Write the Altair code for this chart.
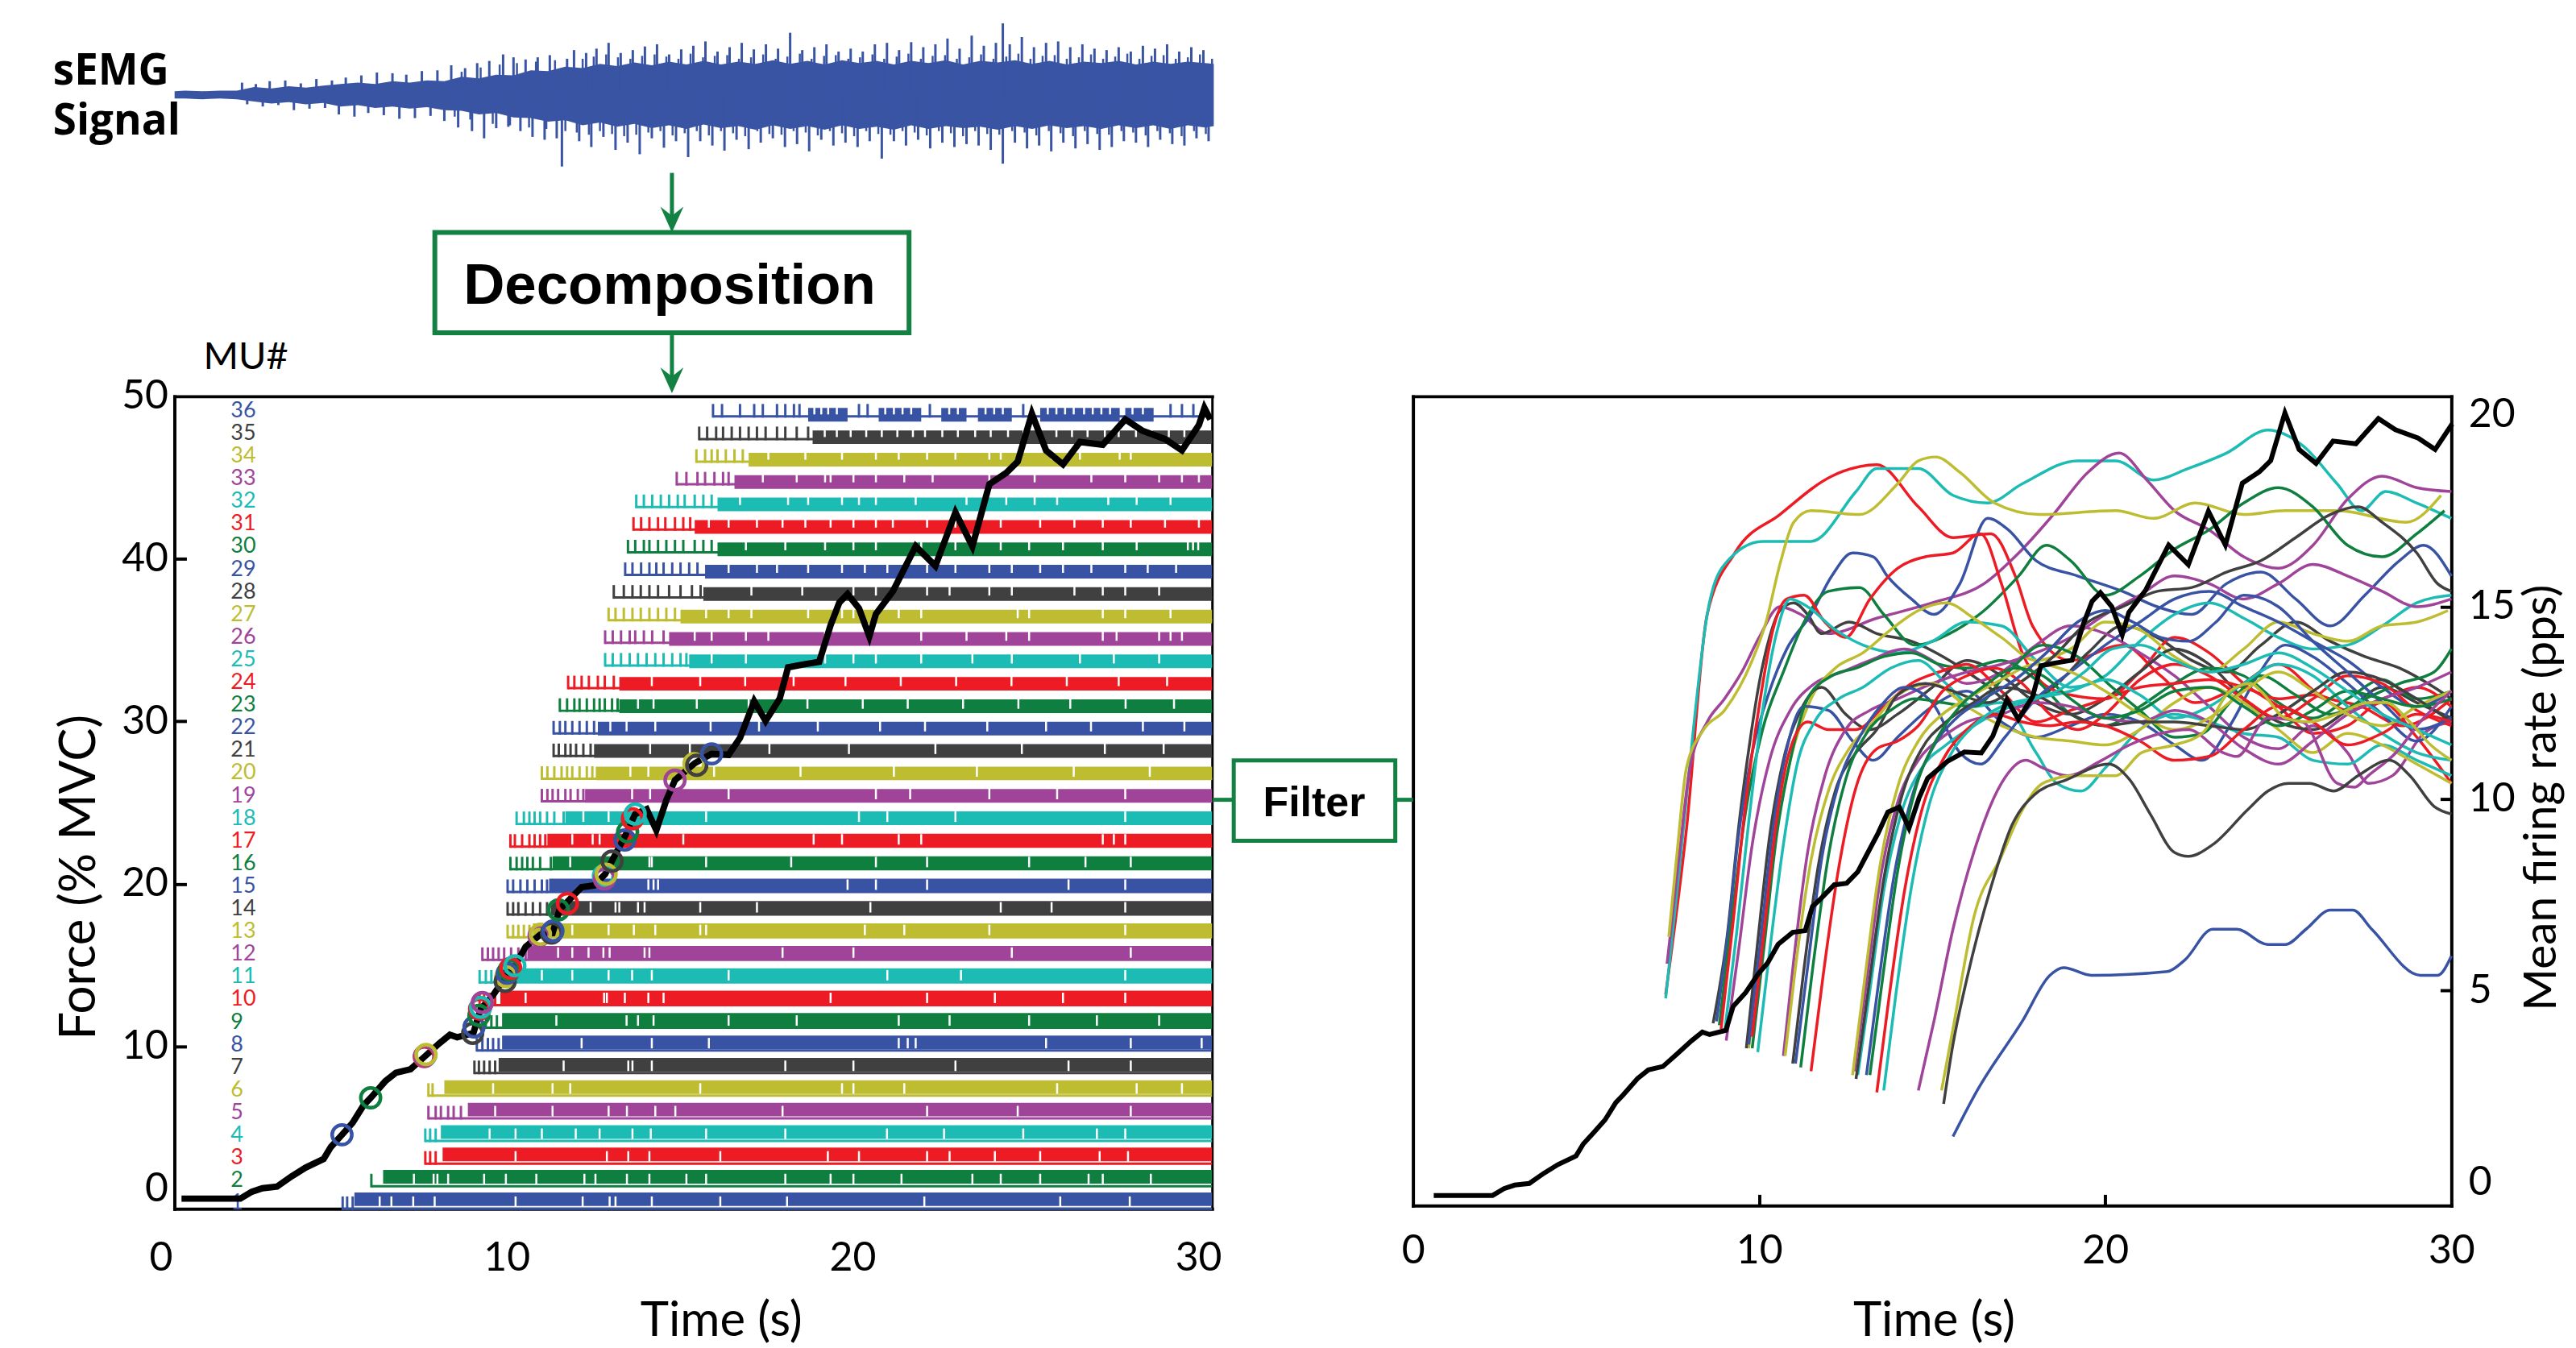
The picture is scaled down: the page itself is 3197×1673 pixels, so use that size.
import altair as alt
import pandas as pd

# ------------------------------------------------------------------ data
MU_IDS = list(range(1, 37))
PALETTE = ["#3953a4", "#0f7f40", "#ed1c24", "#1cbbb4", "#a0449a", "#bebd32", "#404040"]
MU_COLORS = [PALETTE[(m - 1) % 7] for m in MU_IDS]

TRAIN_END = 30.4

# force trace (% MVC)
FORCE_T = [0.6, 2.3, 2.63, 2.94, 3.36, 3.78, 4.19, 4.71, 4.92, 5.24,
           5.55, 5.86, 6.07, 6.49, 6.8, 7.22, 7.63, 8.05, 8.36, 8.57,
           9.04, 9.25, 9.61, 9.98, 10.24, 10.55, 10.97, 11.33, 11.54, 11.76,
           12.17, 12.53, 12.85, 13.07, 13.44, 13.72, 14.05, 14.33, 14.62, 14.87,
           15.44, 15.93, 16.42, 16.75, 17.16, 17.49, 17.9, 18.14, 18.55, 19.04,
           19.37, 19.62, 19.86, 20.19, 20.49, 20.68, 21.17, 21.83, 22.4, 22.98,
           23.47, 23.96, 24.45, 24.78, 25.19, 25.6, 26.09, 26.58, 27.24, 27.89,
           28.38, 29.04, 29.53, 30.02, 30.18, 30.35]
FORCE_F = [0.63, 0.63, 1.05, 1.27, 1.37, 2.0, 2.54, 3.07, 3.81, 4.56,
           5.3, 6.36, 6.83, 7.85, 8.38, 8.59, 9.37, 10.18, 10.71, 10.56,
           10.82, 12.3, 13.15, 14.32, 14.96, 16.13, 16.87, 16.97, 18.46, 18.9,
           19.8, 19.9, 20.6, 21.5, 23.0, 24.3, 24.6, 23.3, 25.16, 26.38,
           27.42, 28.0, 27.94, 28.98, 31.24, 30.02, 31.41, 33.32, 33.49, 33.66,
           35.92, 37.3, 37.83, 36.96, 35.23, 36.61, 38.0, 40.77, 39.56, 42.86,
           40.77, 44.59, 45.29, 45.98, 48.93, 46.67, 45.81, 47.19, 47.02, 48.58,
           47.89, 47.37, 46.67, 48.24, 49.28, 48.58]

# recruitment circles (time, force)
CIRCLE_T = [5.24, 6.07, 7.62, 7.66, 7.63, 7.67, 9.02, 9.06, 9.2, 9.22, 9.25, 9.3,
            9.98, 9.96, 10.02, 10.08, 10.12, 10.24, 10.94, 10.98, 11.3, 11.34, 11.5, 11.76,
            12.8, 12.83, 12.88, 13.05, 13.42, 13.5, 13.64, 13.72, 14.87, 15.42, 15.5, 15.93]
CIRCLE_F = [4.56, 6.83, 9.37, 9.45, 9.4, 9.5, 10.8, 11.2, 11.9, 12.3, 12.4, 12.7,
            14.3, 14.0, 14.5, 14.7, 14.8, 14.96, 16.8, 16.9, 16.97, 17.1, 18.4, 18.8,
            20.5, 20.3, 20.6, 21.4, 22.7, 23.2, 24.0, 24.3, 26.38, 27.4, 27.3, 28.0]

# spike trains: isolated discharges at onset, then dense firing with some longer intervals
MU_TICKS = {
    1: [5.26, 5.39, 5.55], 2: [6.09], 3: [7.65, 7.79, 7.95], 4: [7.65, 7.79, 7.95],
    5: [7.74, 7.95, 8.1, 8.31, 8.47, 8.68], 6: [7.74, 7.86],
    7: [9.07, 9.2, 9.35, 9.51, 9.67], 8: [9.14, 9.3, 9.46, 9.61, 9.77],
    9: [9.4, 9.56, 9.72], 10: [9.22, 9.35, 9.51, 9.67], 11: [9.22, 9.4, 9.56],
    12: [9.3, 9.46, 9.61, 9.77, 9.93, 10.13, 10.34, 10.55],
    13: [10.03, 10.19, 10.34, 10.5, 10.66],
    14: [10.03, 10.19, 10.34, 10.55, 10.76, 10.97, 11.17],
    15: [10.03, 10.19, 10.4, 10.6, 10.81, 11.02, 11.17],
    16: [10.11, 10.29, 10.45, 10.6, 10.76, 10.97, 11.28],
    17: [10.11, 10.24, 10.45, 10.66, 10.81, 10.97, 11.12],
    18: [10.29, 10.5, 10.66, 10.81, 10.97, 11.17, 11.38, 11.65],
    19: [11.02, 11.18, 11.33, 11.49, 11.7, 11.85, 12.06, 12.22],
    20: [11.02, 11.18, 11.38, 11.59, 11.75, 11.9, 12.11, 12.32, 12.48],
    21: [11.36, 11.51, 11.7, 11.85, 12.01, 12.22, 12.43],
    22: [11.36, 11.54, 11.7, 11.9, 12.11, 12.32, 12.53],
    23: [11.54, 11.75, 11.96, 12.11, 12.32, 12.53, 12.69, 12.84, 13.05, 13.21],
    24: [11.78, 11.96, 12.17, 12.38, 12.64, 12.84, 13.1],
    25: [12.85, 13.07, 13.31, 13.56, 13.8, 14.05, 14.3, 14.54, 14.79, 15.03, 15.2],
    26: [12.85, 13.07, 13.31, 13.56, 13.72, 13.97, 14.21, 14.54],
    27: [12.95, 13.15, 13.39, 13.64, 13.88, 14.13, 14.38, 14.62, 14.87],
    28: [13.1, 13.39, 13.64, 13.88, 14.13, 14.38, 14.7, 15.03, 15.36, 15.61],
    29: [13.43, 13.64, 13.89, 14.13, 14.33, 14.54, 14.79, 15.03, 15.28, 15.52],
    30: [13.51, 13.72, 13.97, 14.13, 14.38, 14.62, 14.87, 15.11, 15.44, 15.69, 15.93],
    31: [13.67, 13.89, 14.13, 14.38, 14.59, 14.87, 15.11, 15.31],
    32: [13.75, 13.97, 14.21, 14.46, 14.7, 14.95, 15.15, 15.44, 15.69, 15.93],
    33: [14.92, 15.2, 15.52, 15.74, 16.01, 16.26, 16.42],
    34: [15.49, 15.74, 15.93, 16.1, 16.34, 16.59, 16.83],
    35: [15.57, 15.8, 16.06, 16.26, 16.51, 16.75, 17.0, 17.24, 17.49, 17.82, 18.06, 18.39, 18.72],
    36: [15.97, 16.23, 16.75, 17.16, 17.41, 17.82, 18.06, 18.31, 18.47, 20.19, 20.44,
         22.24, 24.94, 29.2, 29.53, 29.86, 30.18],
}
MU_DENSE_START = [5.6, 6.43, 8.15, 8.1, 8.88, 8.2, 9.77, 9.87, 9.87, 9.82,
                  9.72, 10.6, 10.76, 11.28, 11.23, 11.33, 11.18, 11.7, 12.27, 12.58,
                  12.53, 12.64, 13.26, 13.26, 15.28, 14.7, 15.03, 15.69, 15.74, 16.1,
                  15.44, 16.1, 16.59, 17.0, 18.85]
MU36_SEGMENTS = [[18.72, 19.86], [20.76, 21.99], [22.57, 23.3], [23.63, 24.61],
                 [25.43, 27.73], [27.89, 28.71]]
MU_GAPS = {
    1: [6.33, 6.67, 7.3, 7.92, 10.26, 12.2, 12.98, 13.15, 14.2, 16.18, 18.11, 22.08, 26.01, 28.02],
    2: [7.32, 7.89, 8.0, 8.31, 9.35, 9.98, 10.86, 12.25, 12.57, 13.48, 14.13, 15.2, 15.77,
        18.06, 19.37, 20.03, 21.42, 23.47, 24.29, 25.43, 26.83, 27.24, 28.63],
    3: [10.26, 12.9, 13.52, 14.13, 16.18, 19.29, 20.19, 22.16, 22.81, 24.12, 25.43, 27.15, 27.97],
    4: [9.51, 10.26, 11.02, 12.0, 12.69, 13.64, 14.17, 15.77, 18.06, 21.0, 22.65, 24.94, 27.07, 27.89],
    5: [9.67, 11.33, 12.95, 13.48, 14.3, 14.88, 17.98, 22.16, 24.78, 28.05],
    6: [9.61, 11.33, 11.84, 15.6, 19.7, 20.03, 21.5, 25.92, 28.22, 29.53],
    7: [11.65, 13.52, 13.64, 14.2, 18.06, 20.03, 22.98, 26.25, 28.05],
    8: [12.17, 14.2, 15.85, 21.34, 21.6, 21.83, 25.6, 28.05, 30.1],
    9: [11.44, 13.47, 13.8, 14.25, 16.42, 18.39, 21.34, 22.81, 25.11, 27.07, 28.87],
    10: [10.55, 12.82, 12.9, 13.42, 14.1, 14.54, 19.37, 22.16, 24.12, 26.09, 27.89],
    11: [11.02, 11.9, 12.95, 13.63, 14.2, 16.42, 21.01, 23.14, 27.89],
    12: [11.49, 11.9, 12.37, 12.8, 12.98, 13.99, 14.13, 17.98, 20.03, 24.61, 28.05],
    13: [11.9, 12.95, 13.68, 14.3, 15.6, 15.77, 20.36, 21.5, 23.96, 27.89],
    14: [12.43, 13.15, 13.26, 13.8, 13.99, 15.6, 17.24, 20.52, 24.29, 25.76, 27.89],
    15: [14.1, 14.25, 14.38, 19.86, 20.68, 22.16, 26.25, 27.89],
    16: [11.84, 14.13, 14.2, 15.77, 18.23, 20.68, 22.16, 25.11, 26.74, 28.05],
    17: [11.9, 12.49, 12.69, 13.68, 15.11, 18.88, 19.7, 21.34, 21.99, 27.24, 27.56, 27.89],
    18: [12.22, 12.95, 15.77, 20.19, 21.01, 22.98, 27.89],
    19: [13.63, 14.15, 16.42, 20.68, 21.67, 23.96, 25.92, 27.89],
    20: [13.58, 14.1, 16.0, 18.5, 21.2, 23.6, 26.4, 28.6],
    21: [14.15, 15.3, 17.6, 19.9, 22.4, 24.9, 27.3, 29.0],
    22: [13.0, 13.47, 14.3, 15.9, 17.3, 19.0, 20.8, 22.1, 23.9, 25.6, 26.9, 28.4, 29.6],
    23: [13.8, 14.25, 15.5, 17.0, 18.7, 20.3, 21.6, 23.2, 24.8, 26.3, 27.9, 29.3],
    24: [14.2, 15.6, 16.9, 18.3, 19.8, 21.4, 23.0, 24.6, 26.2, 27.7, 29.1],
    25: [15.93, 16.92, 19.21, 20.03, 20.68, 21.99, 23.47, 24.61, 26.58, 27.56, 28.87],
    26: [15.44, 15.93, 16.92, 17.57, 19.21, 20.52, 21.99, 23.3, 24.45, 25.11, 27.24, 27.64, 28.87, 29.2, 29.53],
    27: [15.77, 16.42, 17.08, 18.72, 19.7, 20.03, 21.34, 21.99, 24.78, 25.11, 27.24, 27.89, 29.2],
    28: [17.08, 18.55, 20.03, 20.68, 22.16, 22.81, 23.96, 24.61, 26.42, 27.24, 27.89, 28.87],
    29: [16.42, 17.24, 17.82, 18.72, 19.7, 20.36, 21.01, 22.16, 22.98, 23.96, 24.61, 25.43,
         26.09, 26.91, 27.89, 28.54, 29.36],
    30: [16.92, 18.06, 19.21, 20.03, 20.68, 21.99, 22.98, 24.29, 25.11, 26.09, 27.24, 28.22, 29.7, 29.85, 30.0],
    31: [15.85, 16.42, 17.24, 17.98, 18.64, 19.37, 20.03, 20.68, 21.17, 22.16, 22.98, 24.29,
         25.43, 26.42, 27.24, 28.05, 29.04, 30.02],
    32: [16.75, 18.14, 18.72, 19.7, 20.19, 20.68, 21.83, 23.3, 24.45, 25.27, 25.92, 27.4, 28.22, 29.2],
    33: [17.41, 18.39, 19.21, 19.37, 20.03, 20.68, 21.5, 22.32, 23.96, 25.27, 26.91, 27.89, 28.87, 29.53, 30.02],
    34: [17.57, 18.64, 19.7, 20.68, 21.34, 22.16, 22.98, 23.96, 24.29, 25.76, 26.58, 27.73, 28.05],
    35: [19.2, 19.55, 19.95, 20.4, 20.85, 21.3, 21.75, 22.1, 22.6, 23.05, 23.55, 24.0, 24.5,
         24.95, 25.4, 25.9, 26.35, 26.8, 27.3, 27.7, 28.2, 28.65, 29.15, 29.6],
    36: [18.9, 19.1, 19.3, 19.55, 20.95, 21.2, 21.45, 21.7, 22.8, 23.05, 23.85, 24.1, 24.35,
         25.65, 25.9, 26.15, 26.4, 26.7, 26.95, 27.2, 27.45, 28.1, 28.4],
}

# filtered mean firing rates (pps)
FR_CURVES = {
    3: [(7.3, 4.9), (7.9, 9.2), (8.5, 14.8), (9.3, 16.4), (10.6, 17.4), (12.1, 18.4), (13.4, 18.7),
        (14.6, 17.6), (15.6, 16.8), (16.7, 16.9), (17.4, 15.8), (17.9, 14.5), (19.0, 13.6), (20.5, 14.0),
        (21.6, 13.2), (22.6, 12.5), (23.8, 12.9), (25.0, 13.5), (26.2, 12.7), (27.4, 12.4), (28.6, 11.9), (30.0, 12.6)],
    4: [(7.3, 4.8), (7.7, 8.2), (8.1, 11.8), (8.5, 14.8), (9.0, 16.1), (10.1, 16.7), (11.5, 16.7), (12.8, 18.0),
        (13.4, 18.6), (14.6, 18.6), (15.6, 17.9), (16.6, 17.7), (17.6, 18.2), (19.2, 18.8), (20.3, 18.8),
        (21.4, 18.3), (22.4, 18.6), (23.5, 19.0), (24.7, 19.6), (25.7, 19.2), (26.7, 18.2), (27.4, 17.5),
        (28.1, 18.0), (29.0, 17.7), (30.0, 17.3)],
    5: [(7.34, 5.7), (7.7, 8.6), (8.0, 10.8), (8.5, 12.0), (9.0, 12.6), (9.5, 13.3), (10.0, 14.2), (10.6, 15.0),
        (11.2, 14.8), (12.0, 14.3), (13.4, 14.7), (15.0, 15.1), (16.5, 15.6), (17.5, 16.4), (18.5, 17.4),
        (19.5, 18.5), (20.4, 19.0), (21.2, 18.3), (22.0, 17.5), (23.0, 17.0), (24.0, 16.3), (25.0, 16.0),
        (26.0, 16.6), (27.0, 17.8), (28.0, 18.4), (29.0, 18.1), (30.0, 18.0)],
    6: [(7.39, 6.4), (7.63, 8.6), (7.9, 10.8), (8.4, 11.8), (9.0, 12.3), (9.8, 13.6), (10.2, 14.6), (10.6, 16.1),
        (11.0, 17.2), (11.5, 17.5), (12.9, 17.4), (14.0, 18.2), (14.6, 18.8), (15.1, 18.9), (15.8, 18.5),
        (16.8, 17.7), (18.1, 17.4), (20.3, 17.5), (21.4, 17.3), (22.6, 17.7), (24.0, 17.4), (25.2, 17.5),
        (26.7, 17.5), (28.7, 17.2), (29.7, 17.9)],
    7: [(8.67, 4.15), (9.06, 6.3), (9.44, 9.5), (9.72, 11.4), (10.0, 13.0), (10.3, 14.2), (10.6, 14.9),
        (11.0, 15.1), (11.4, 14.8), (11.8, 14.3), (12.6, 14.6), (13.4, 14.3), (14.4, 14.1), (15.5, 13.6),
        (16.5, 13.0), (17.5, 12.4), (18.5, 12.9), (19.5, 13.8), (20.5, 14.5), (21.5, 14.2), (22.5, 13.6),
        (23.5, 13.3), (24.5, 14.0), (25.5, 14.6), (26.5, 14.1), (27.5, 13.7), (28.5, 13.4), (29.5, 12.9), (30.0, 12.6)],
    8: [(8.77, 4.2), (9.1, 6.5), (9.4, 9.0), (9.8, 11.2), (10.3, 12.8), (10.8, 13.9), (11.5, 14.8), (12.1, 15.8),
        (12.7, 16.4), (13.3, 16.3), (13.7, 15.8), (14.4, 15.2), (15.05, 14.8), (15.8, 15.6), (16.6, 17.3),
        (17.2, 17.0), (18.0, 16.2), (19.2, 15.8), (20.5, 15.4), (21.5, 15.0), (22.5, 14.8), (23.5, 15.6),
        (24.5, 15.9), (25.5, 15.2), (26.5, 14.5), (27.5, 15.3), (28.5, 16.2), (29.2, 16.6), (30.0, 15.8)],
    9: [(8.85, 4.1), (9.2, 6.8), (9.6, 9.6), (10.1, 11.8), (10.7, 13.3), (11.3, 14.6), (12.0, 15.4), (12.9, 15.5),
        (13.6, 14.8), (14.5, 14.0), (15.5, 14.3), (16.5, 14.9), (17.5, 15.8), (18.3, 16.6), (19.0, 16.2),
        (20.0, 15.3), (21.0, 15.8), (22.0, 16.5), (23.0, 17.0), (24.0, 17.7), (25.0, 18.1), (26.0, 17.6),
        (27.0, 16.6), (28.0, 16.3), (29.0, 16.9), (29.8, 17.5)],
    10: [(8.9, 4.0), (9.25, 6.8), (9.6, 9.8), (10.0, 12.4), (10.4, 14.4), (10.8, 15.2), (11.3, 15.3), (11.9, 14.6),
         (12.5, 14.2), (13.2, 15.2), (14.0, 16.0), (14.8, 16.3), (15.6, 16.4), (16.4, 16.9), (17.0, 15.6),
         (17.6, 13.8), (18.2, 13.0), (19.0, 12.7), (20.0, 12.6), (21.0, 13.3), (22.0, 14.2), (23.0, 13.8),
         (24.0, 13.0), (25.0, 12.4), (26.0, 11.7), (27.0, 11.9), (28.0, 12.5), (29.0, 11.6), (30.0, 10.4)],
    11: [(9.0, 3.9), (9.35, 6.5), (9.7, 9.4), (10.1, 12.3), (10.5, 14.3), (10.9, 15.2), (11.4, 15.0), (12.2, 14.4),
         (13.0, 14.0), (14.0, 13.8), (15.0, 14.1), (16.0, 14.6), (17.0, 14.5), (18.0, 13.6), (19.0, 12.9),
         (20.0, 13.2), (21.0, 14.1), (22.0, 14.8), (23.0, 15.1), (24.0, 14.7), (25.0, 14.2), (26.0, 13.9),
         (27.0, 14.0), (28.0, 14.5), (29.0, 15.1), (30.0, 15.3)],
    12: [(9.05, 3.7), (9.4, 6.0), (9.8, 8.8), (10.3, 11.0), (10.9, 12.3), (11.6, 13.0), (12.4, 13.3), (13.2, 13.6),
         (14.2, 13.9), (15.0, 13.6), (16.0, 13.0), (17.0, 13.3), (18.0, 14.0), (19.0, 14.5), (20.0, 14.3),
         (21.0, 13.8), (22.0, 13.2), (23.0, 12.4), (24.0, 11.6), (25.0, 11.3), (26.0, 11.9), (27.0, 11.2),
         (27.6, 10.4), (28.3, 10.6), (29.2, 11.7), (30.0, 12.0)],
    13: [(9.7, 3.5), (10.0, 5.8), (10.4, 8.6), (10.9, 11.0), (11.5, 12.6), (12.2, 13.4), (13.0, 13.8), (13.8, 14.4),
         (14.6, 14.9), (15.4, 15.1), (16.2, 14.7), (17.0, 14.2), (18.0, 13.6), (19.0, 13.9), (20.0, 14.6),
         (21.0, 14.4), (22.0, 13.7), (23.0, 13.3), (24.0, 13.9), (25.0, 14.6), (26.0, 14.3), (27.0, 14.1),
         (28.0, 14.5), (29.0, 14.6), (29.9, 14.9)],
    14: [(9.63, 3.5), (9.95, 6.2), (10.3, 9.0), (10.7, 11.0), (11.2, 12.3), (11.8, 12.9), (12.5, 12.2), (13.2, 11.8),
         (14.0, 12.2), (15.0, 12.9), (16.0, 13.6), (17.0, 13.2), (18.0, 12.5), (19.0, 12.2), (20.0, 12.6),
         (21.0, 13.3), (22.0, 13.9), (23.0, 13.5), (24.0, 12.6), (25.0, 12.0), (26.0, 11.8), (27.0, 12.3),
         (28.0, 12.9), (29.0, 12.5), (30.0, 12.1)],
    15: [(9.7, 3.6), (10.05, 6.4), (10.4, 9.2), (10.8, 11.3), (11.3, 12.4), (12.0, 12.3), (12.7, 11.5), (13.3, 11.0),
         (14.0, 11.6), (15.0, 12.4), (16.0, 12.8), (17.0, 12.0), (18.0, 11.6), (19.0, 11.9), (20.0, 12.2),
         (21.0, 12.0), (22.0, 11.4), (22.8, 11.0), (23.6, 11.9), (24.4, 13.2), (25.2, 14.0), (26.0, 13.7),
         (27.0, 13.0), (28.0, 12.2), (29.0, 11.5), (30.0, 12.4)],
    16: [(9.8, 3.5), (10.15, 6.2), (10.5, 9.0), (10.9, 11.0), (11.4, 12.6), (12.1, 13.2), (12.8, 13.4), (13.6, 13.7),
         (14.4, 13.8), (15.2, 13.5), (16.0, 13.4), (17.0, 13.6), (18.0, 13.1), (19.0, 12.2), (20.0, 11.9),
         (21.0, 12.4), (22.0, 13.0), (23.0, 13.4), (24.0, 13.2), (25.0, 12.5), (26.0, 12.1), (27.0, 12.6),
         (28.0, 13.1), (29.0, 12.6), (30.0, 12.8)],
    17: [(9.8, 3.8), (10.15, 6.6), (10.5, 9.4), (10.9, 11.3), (11.4, 12.0), (12.0, 11.8), (12.8, 11.8), (13.6, 12.4),
         (14.4, 13.0), (15.2, 13.3), (16.0, 13.5), (17.0, 12.8), (18.0, 12.0), (19.0, 12.3), (20.0, 12.6),
         (21.0, 12.9), (22.0, 13.0), (23.0, 13.1), (24.0, 12.9), (25.0, 12.6), (26.0, 12.7), (27.0, 12.3),
         (28.0, 12.6), (29.0, 12.9), (30.0, 12.4)],
    18: [(9.96, 3.4), (10.3, 6.0), (10.7, 8.8), (11.1, 10.9), (11.6, 12.0), (12.3, 12.6), (13.0, 12.9), (13.8, 13.4),
         (14.6, 13.6), (15.4, 13.0), (16.2, 12.4), (17.0, 12.5), (18.0, 11.2), (18.6, 10.4), (19.3, 10.2),
         (20.0, 10.8), (21.0, 11.8), (22.0, 12.2), (23.0, 12.0), (24.0, 11.7), (25.0, 11.6), (26.0, 11.0),
         (27.0, 10.9), (28.0, 11.4), (29.0, 11.0), (30.0, 10.6)],
    19: [(10.7, 3.3), (11.0, 5.8), (11.4, 8.6), (11.9, 10.6), (12.5, 11.8), (13.2, 12.3), (14.0, 12.6), (15.0, 13.0),
         (16.0, 13.3), (17.0, 13.5), (18.0, 13.8), (19.0, 14.2), (20.0, 14.8), (21.0, 15.3), (22.0, 15.8),
         (23.0, 15.6), (24.0, 15.2), (25.0, 15.6), (26.0, 16.1), (27.0, 15.8), (28.0, 15.4), (29.0, 15.0), (30.0, 15.2)],
    20: [(10.75, 3.3), (11.05, 5.6), (11.5, 8.4), (12.0, 10.2), (12.6, 11.3), (13.3, 12.0), (14.0, 12.7), (15.0, 13.0),
         (16.0, 12.4), (17.0, 11.9), (18.0, 11.6), (19.0, 11.5), (20.0, 11.4), (21.0, 11.8), (22.0, 12.5),
         (23.0, 12.9), (24.0, 12.5), (25.0, 11.8), (26.0, 11.2), (27.0, 11.7), (28.0, 11.4), (29.0, 10.9), (30.0, 10.4)],
    21: [(10.97, 3.1), (11.3, 5.6), (11.7, 8.2), (12.2, 10.2), (12.8, 11.2), (13.4, 11.8), (14.0, 12.7), (14.8, 13.0),
         (15.6, 12.8), (16.6, 12.5), (17.5, 13.0), (18.5, 13.7), (19.5, 14.6), (20.5, 15.0), (21.5, 15.4),
         (22.5, 15.5), (23.5, 15.9), (24.5, 16.2), (25.5, 16.8), (26.5, 17.4), (27.3, 17.6), (28.0, 17.2),
         (29.0, 16.4), (29.6, 15.6), (30.0, 15.4)],
    22: [(11.05, 3.1), (11.4, 5.6), (11.8, 8.4), (12.3, 10.4), (12.9, 11.6), (13.5, 12.4), (14.2, 12.9), (15.0, 12.5),
         (15.8, 11.2), (16.4, 10.9), (17.1, 11.6), (18.0, 12.6), (19.0, 13.3), (20.0, 14.0), (21.0, 14.6),
         (22.0, 15.2), (23.0, 15.4), (24.0, 15.0), (25.0, 14.6), (26.0, 14.1), (27.0, 13.6), (28.0, 12.9),
         (29.0, 12.4), (30.0, 12.8)],
    23: [(11.2, 3.0), (11.55, 5.6), (12.0, 8.5), (12.5, 10.5), (13.1, 11.7), (13.8, 12.3), (14.5, 12.6), (15.3, 12.5),
         (16.2, 12.4), (17.2, 13.3), (18.2, 14.0), (19.2, 13.7), (20.2, 12.9), (21.0, 12.3), (22.0, 11.6),
         (22.8, 11.7), (23.6, 12.5), (24.5, 13.2), (25.5, 12.7), (26.5, 12.2), (27.5, 12.6), (28.5, 13.0),
         (29.5, 13.3), (30.0, 13.9)],
    24: [(11.5, 2.9), (11.85, 5.4), (12.3, 8.2), (12.8, 10.3), (13.4, 11.3), (14.0, 11.5), (14.6, 11.9), (15.3, 12.8),
         (16.0, 13.2), (16.8, 13.4), (17.6, 13.0), (18.4, 12.2), (19.2, 11.8), (20.0, 12.2), (21.0, 13.1),
         (22.0, 13.5), (23.0, 13.2), (24.0, 12.6), (25.0, 12.1), (26.0, 12.6), (27.0, 13.2), (28.0, 13.0),
         (29.0, 12.3), (30.0, 11.9)],
    25: [(12.85, 2.8), (13.2, 5.0), (13.6, 7.6), (14.1, 9.6), (14.7, 10.8), (15.4, 11.4), (16.2, 11.9), (17.0, 12.3),
         (18.0, 12.6), (19.0, 12.8), (20.0, 13.1), (21.0, 12.7), (22.0, 12.1), (23.0, 12.4), (24.0, 13.0),
         (25.0, 13.5), (26.0, 13.2), (27.0, 12.4), (28.0, 11.7), (29.0, 11.2), (30.0, 11.0)],
    26: [(12.75, 2.9), (13.1, 5.2), (13.5, 7.9), (14.0, 9.9), (14.6, 11.0), (15.3, 11.6), (16.0, 12.0), (17.0, 12.2),
         (18.0, 12.5), (19.0, 12.4), (20.0, 12.1), (21.0, 12.0), (22.0, 12.3), (23.0, 12.0), (24.0, 11.3),
         (25.0, 10.9), (26.0, 11.5), (27.0, 12.2), (28.0, 12.6), (29.0, 12.9), (30.0, 13.3)],
    27: [(12.7, 2.8), (13.05, 5.3), (13.5, 8.3), (14.0, 10.3), (14.6, 11.5), (15.3, 12.2), (16.0, 12.6), (17.0, 13.1),
         (18.0, 13.5), (19.0, 13.3), (20.0, 12.8), (21.0, 12.2), (22.0, 11.8), (23.0, 12.1), (24.0, 12.8),
         (25.0, 13.3), (26.0, 12.8), (27.0, 12.2), (28.0, 11.9), (29.0, 12.4), (30.0, 12.8)],
    28: [(12.8, 2.7), (13.15, 5.0), (13.6, 7.9), (14.1, 10.0), (14.7, 11.3), (15.4, 12.0), (16.2, 12.5), (17.0, 12.9),
         (18.0, 12.7), (19.0, 12.2), (20.0, 11.9), (21.0, 12.0), (22.0, 12.0), (23.0, 11.9), (24.0, 11.8),
         (25.0, 12.2), (26.0, 12.8), (27.0, 13.3), (28.0, 13.1), (29.0, 12.6), (30.0, 12.0)],
    29: [(13.1, 2.8), (13.45, 5.2), (13.9, 8.0), (14.4, 10.0), (15.0, 11.3), (15.7, 12.1), (16.5, 12.6), (17.4, 13.1),
         (18.3, 13.8), (19.2, 14.6), (20.0, 14.9), (20.8, 14.6), (21.6, 14.2), (22.4, 14.1), (23.2, 14.6),
         (24.0, 15.3), (25.0, 15.0), (26.0, 14.1), (27.0, 13.3), (28.0, 12.5), (29.0, 11.8), (30.0, 12.1)],
    30: [(13.2, 2.8), (13.55, 5.2), (14.0, 8.1), (14.5, 10.2), (15.1, 11.5), (15.8, 12.4), (16.6, 13.0), (17.4, 13.4),
         (18.2, 13.2), (19.0, 12.6), (20.0, 12.1), (21.0, 12.3), (22.0, 12.8), (23.0, 12.9), (24.0, 12.4),
         (25.0, 11.9), (26.0, 12.3), (27.0, 12.8), (28.0, 12.6), (29.0, 12.4), (30.0, 12.6)],
    31: [(13.4, 2.35), (13.75, 4.8), (14.2, 7.6), (14.7, 9.7), (15.3, 11.0), (16.0, 11.8), (16.8, 12.2), (17.6, 12.0),
         (18.4, 11.9), (19.2, 12.0), (20.0, 11.9), (21.0, 11.5), (22.0, 11.0), (23.0, 11.1), (24.0, 11.8),
         (25.0, 12.4), (26.0, 12.0), (27.0, 11.4), (28.0, 11.7), (29.0, 12.2), (30.0, 12.0)],
    32: [(13.6, 2.4), (13.95, 4.9), (14.4, 7.7), (14.9, 9.8), (15.5, 11.1), (16.2, 11.9), (17.0, 12.4), (17.8, 12.6),
         (18.6, 12.8), (19.4, 13.3), (20.2, 13.9), (21.0, 14.0), (22.0, 13.6), (23.0, 13.3), (24.0, 13.5),
         (25.0, 13.8), (26.0, 13.4), (27.0, 12.8), (28.0, 12.2), (29.0, 11.8), (30.0, 11.4)],
    33: [(14.6, 2.4), (15.05, 4.2), (15.6, 6.6), (16.2, 8.6), (17.0, 10.4), (17.7, 11.0), (18.2, 10.8), (18.9, 10.6),
         (19.9, 11.0), (20.7, 11.4), (21.6, 11.7), (22.4, 11.8), (23.4, 11.2), (23.8, 11.1), (24.7, 12.1),
         (25.7, 12.0), (26.7, 10.4), (27.2, 10.3), (27.6, 10.6), (28.4, 11.2), (29.1, 12.0), (30.0, 12.8)],
    34: [(15.27, 2.4), (15.6, 4.0), (16.2, 6.9), (17.0, 8.5), (17.6, 9.7), (18.2, 10.4), (19.1, 10.6), (20.3, 10.6),
         (21.05, 11.2), (22.0, 11.4), (22.8, 11.7), (23.6, 12.8), (24.2, 13.0), (24.5, 12.8), (25.2, 12.1),
         (25.9, 12.0), (26.7, 12.2), (27.6, 12.5), (28.1, 12.5), (28.8, 12.0), (29.4, 11.4), (30.0, 11.0)],
    35: [(15.33, 2.05), (15.6, 3.6), (16.0, 5.3), (16.7, 7.7), (17.3, 9.3), (17.95, 10.1), (18.9, 10.5), (20.1, 10.9),
         (20.7, 10.5), (21.3, 9.6), (22.0, 8.6), (22.4, 8.5), (23.1, 8.8), (24.1, 9.7), (24.7, 10.2), (25.3, 10.4),
         (25.9, 10.4), (26.6, 10.2), (27.3, 10.6), (28.2, 11.0), (28.8, 10.6), (29.5, 9.8), (30.0, 9.6)],
    36: [(15.6, 1.2), (16.3, 2.4), (17.6, 4.2), (18.4, 5.4), (18.8, 5.6), (19.6, 5.4), (21.8, 5.5), (22.3, 5.8),
         (23.1, 6.6), (23.8, 6.6), (24.7, 6.2), (25.2, 6.2), (25.8, 6.6), (26.5, 7.1), (27.15, 7.1), (27.7, 6.6),
         (29.1, 5.4), (29.6, 5.4), (30.0, 5.9)],
}

# surface EMG: dense core envelope and spikes (arbitrary units)
SEMG_T = [0.4, 0.7, 1.2, 1.7, 2.2, 2.7, 3.2, 3.7, 4.2, 4.7,
          5.2, 5.7, 6.2, 6.7, 7.2, 7.7, 8.2, 8.7, 9.2, 9.7,
          10.2, 10.7, 11.2, 11.7, 12.2, 12.7, 13.2, 13.7, 14.2, 14.7,
          15.2, 15.7, 16.2, 16.7, 17.2, 17.7, 18.2, 18.7, 19.2, 19.7,
          20.2, 20.7, 21.2, 21.7, 22.2, 22.7, 23.2, 23.7, 24.2, 24.7,
          25.2, 25.7, 26.2, 26.7, 27.2, 27.7, 28.2, 28.7, 29.2, 29.7,
          30.2, 30.45]
SEMG_U = [0.05, 0.06, 0.05, 0.06, 0.06, 0.11, 0.09, 0.12, 0.10, 0.13,
          0.15, 0.17, 0.15, 0.19, 0.17, 0.20, 0.19, 0.25, 0.23, 0.28,
          0.27, 0.34, 0.33, 0.39, 0.37, 0.43, 0.40, 0.45, 0.41, 0.46,
          0.42, 0.47, 0.42, 0.46, 0.43, 0.48, 0.43, 0.47, 0.42, 0.48,
          0.44, 0.47, 0.42, 0.47, 0.44, 0.48, 0.42, 0.47, 0.45, 0.48,
          0.43, 0.47, 0.42, 0.46, 0.44, 0.47, 0.42, 0.46, 0.43, 0.46,
          0.44, 0.43]
SEMG_L = [-0.05, -0.05, -0.06, -0.05, -0.06, -0.09, -0.12, -0.10, -0.13, -0.11,
          -0.16, -0.14, -0.18, -0.16, -0.19, -0.17, -0.21, -0.22, -0.27, -0.25,
          -0.31, -0.32, -0.37, -0.35, -0.42, -0.38, -0.44, -0.40, -0.46, -0.42,
          -0.47, -0.41, -0.46, -0.43, -0.48, -0.42, -0.47, -0.43, -0.48, -0.42,
          -0.47, -0.44, -0.48, -0.42, -0.47, -0.43, -0.46, -0.44, -0.48, -0.43,
          -0.47, -0.42, -0.46, -0.43, -0.47, -0.42, -0.46, -0.42, -0.47, -0.42,
          -0.45, -0.43]
SEMG_SPIKES = [
    (2.35, 0.17), (2.5, -0.13), (2.75, 0.15), (2.95, -0.16), (3.15, 0.19), (3.4, -0.14), (3.6, 0.2),
    (3.85, -0.21), (4.05, 0.16), (4.3, -0.19), (4.5, 0.22), (4.75, -0.18), (4.95, 0.2),
    (5.15, -0.27), (5.35, 0.24), (5.6, -0.3), (5.8, 0.27), (6.0, -0.25), (6.25, 0.31), (6.45, -0.28),
    (6.7, 0.3), (6.9, -0.33), (7.1, 0.28), (7.35, -0.32), (7.55, 0.33), (7.8, -0.29), (8.0, 0.34), (8.2, -0.36),
    (8.4, 0.41), (8.6, -0.45), (8.8, 0.37), (9.0, -0.5), (9.15, 0.44), (9.35, -0.6), (9.5, 0.47),
    (9.7, -0.46), (9.9, 0.56), (10.05, -0.44), (10.2, 0.52),
    (10.4, -0.5), (10.55, 0.49), (10.75, -0.58), (10.9, 0.52), (11.1, -0.62), (11.25, 0.55),
    (11.45, -0.6), (11.6, -0.99), (11.75, 0.5),
    (11.95, 0.62), (12.1, -0.64), (12.3, 0.58), (12.45, -0.72), (12.6, 0.64), (12.8, -0.58), (12.95, 0.72),
    (13.15, -0.76), (13.3, 0.58), (13.5, -0.66), (13.65, 0.62), (13.85, -0.82), (14.0, 0.67), (14.2, -0.6),
    (14.35, 0.7), (14.55, -0.73), (14.7, 0.56), (14.9, -0.64), (15.05, 0.63), (15.25, -0.86), (15.4, 0.68),
    (15.6, -0.64), (15.75, 0.74), (15.95, -0.7), (16.1, 0.6), (16.3, -0.77), (16.45, 0.66), (16.65, -0.62),
    (16.8, 0.72), (17.0, -0.75), (17.15, 0.63), (17.35, -0.66), (17.5, 0.7), (17.7, -0.6), (17.85, 0.64),
    (18.05, -0.72), (18.2, 0.86), (18.4, -0.68), (18.55, 0.62), (18.75, -0.78), (18.9, 0.66), (19.1, -0.62),
    (19.25, 0.7), (19.45, -0.7), (19.6, 0.6), (19.8, -0.66), (19.95, 0.64), (20.15, -0.72), (20.3, 0.6),
    (20.5, -0.64), (20.65, 0.7), (20.85, -0.88), (21.0, 0.72), (21.2, -0.64), (21.35, 0.62), (21.55, -0.7),
    (21.7, 0.73), (21.9, -0.62), (22.05, 0.66), (22.25, -0.74), (22.4, 0.7), (22.6, -0.66), (22.75, 0.78),
    (22.95, -0.72), (23.1, 0.64), (23.3, -0.68), (23.45, 0.82), (23.65, -0.7), (23.8, 0.68), (24.0, -0.76),
    (24.15, 0.72), (24.35, 0.99), (24.35, -0.95), (24.55, 0.7), (24.7, -0.66), (24.9, 0.8), (25.05, -0.74),
    (25.25, 0.66), (25.4, -0.7), (25.6, 0.72), (25.75, -0.78), (25.95, 0.74), (26.1, -0.66), (26.3, 0.66),
    (26.45, -0.74), (26.65, 0.7), (26.8, -0.68), (27.0, 0.64), (27.15, -0.76), (27.35, 0.62), (27.5, -0.72),
    (27.7, 0.66), (27.85, -0.64), (28.05, 0.6), (28.2, -0.66), (28.4, 0.68), (28.55, -0.72), (28.75, 0.64),
    (28.9, -0.62), (29.1, 0.7), (29.25, -0.68), (29.45, 0.6), (29.6, -0.7), (29.8, 0.66), (29.95, -0.6),
    (30.15, 0.62), (30.3, -0.64),
]
SEMG_SPIKES_MID = [
    (8.5, -0.3), (8.7, 0.32), (8.95, -0.34), (9.25, 0.38), (9.6, -0.4), (9.8, 0.42), (10.1, -0.42),
    (10.3, 0.44), (10.65, -0.45), (10.85, 0.46), (11.15, -0.47), (11.4, 0.48), (11.7, -0.5),
    (12.03, -0.52), (12.2, 0.5), (12.38, -0.55), (12.52, 0.53), (12.7, -0.5), (12.88, 0.56), (13.05, -0.54),
    (13.22, 0.52), (13.4, -0.57), (13.58, 0.5), (13.75, -0.55), (13.92, 0.54), (14.1, -0.52), (14.28, 0.56),
    (14.45, -0.5), (14.62, 0.53), (14.8, -0.56), (14.97, 0.5), (15.15, -0.53), (15.32, 0.57), (15.5, -0.5),
    (15.68, 0.52), (15.85, -0.56), (16.02, 0.54), (16.2, -0.5), (16.38, 0.55), (16.55, -0.53), (16.72, 0.5),
    (16.9, -0.57), (17.07, 0.52), (17.25, -0.5), (17.42, 0.56), (17.6, -0.54), (17.78, 0.5), (17.95, -0.55),
    (18.12, 0.53), (18.3, -0.5), (18.48, 0.57), (18.65, -0.52), (18.82, 0.5), (19.0, -0.56), (19.18, 0.54),
    (19.35, -0.5), (19.52, 0.55), (19.7, -0.53), (19.88, 0.5), (20.05, -0.57), (20.22, 0.52), (20.4, -0.5),
    (20.58, 0.56), (20.75, -0.54), (20.92, 0.5), (21.1, -0.55), (21.28, 0.53), (21.45, -0.5), (21.62, 0.57),
    (21.8, -0.52), (21.98, 0.5), (22.15, -0.56), (22.32, 0.54), (22.5, -0.5), (22.68, 0.55), (22.85, -0.53),
    (23.02, 0.5), (23.2, -0.57), (23.38, 0.52), (23.55, -0.5), (23.72, 0.56), (23.9, -0.54), (24.08, 0.5),
    (24.25, -0.55), (24.45, 0.53), (24.62, -0.5), (24.8, 0.57), (24.98, -0.52), (25.15, 0.5), (25.32, -0.56),
    (25.5, 0.54), (25.68, -0.5), (25.85, 0.55), (26.02, -0.53), (26.2, 0.5), (26.38, -0.57), (26.55, 0.52),
    (26.72, -0.5), (26.9, 0.56), (27.08, -0.54), (27.25, 0.5), (27.42, -0.55), (27.6, 0.53), (27.78, -0.5),
    (27.95, 0.57), (28.12, -0.52), (28.3, 0.5), (28.48, -0.56), (28.65, 0.54), (28.82, -0.5), (29.0, 0.55),
    (29.18, -0.53), (29.35, 0.5), (29.52, -0.57), (29.7, 0.52), (29.88, -0.5), (30.05, 0.56), (30.22, -0.54),
    (30.4, 0.5),
]

LEFT_Y_TICKS = [0, 10, 20, 30, 40, 50]
TIME_TICKS = [0, 10, 20, 30]
RIGHT_Y_TICKS = [0, 5, 10, 15, 20]

# ------------------------------------------------------------------ tables
force_df = pd.DataFrame({"t": FORCE_T, "f": FORCE_F})
circ_df = pd.DataFrame({"mu": MU_IDS, "t": CIRCLE_T, "f": CIRCLE_F})
tick_rows, seg_rows, gap_rows, base_rows = [], [], [], []
for m in MU_IDS:
    for t in MU_TICKS[m]:
        tick_rows.append({"mu": m, "t": t})
    for t in MU_GAPS[m]:
        gap_rows.append({"mu": m, "t": t})
    base_rows.append({"mu": m, "a": MU_TICKS[m][0], "b": TRAIN_END})
    if m <= 35:
        seg_rows.append({"mu": m, "a": MU_DENSE_START[m - 1], "b": TRAIN_END})
for a, b in MU36_SEGMENTS:
    seg_rows.append({"mu": 36, "a": a, "b": b})
ticks_df = pd.DataFrame(tick_rows)
gaps_df = pd.DataFrame(gap_rows)
base_df = pd.DataFrame(base_rows)
segs_df = pd.DataFrame(seg_rows)
lab_df = pd.DataFrame({"mu": MU_IDS, "label": [str(m) for m in MU_IDS]})
fr_df = pd.DataFrame([{"mu": m, "t": t, "fr": v} for m, pts in FR_CURVES.items() for t, v in pts])
core_df = pd.DataFrame({"t": SEMG_T, "u": SEMG_U, "l": SEMG_L})
spk_df = pd.DataFrame(SEMG_SPIKES, columns=["t", "a"])
spk_mid_df = pd.DataFrame(SEMG_SPIKES_MID, columns=["t", "a"])
one = pd.DataFrame({"k": [0]})

# ------------------------------------------------------------------ layout (chart pixel coordinates)
FONT = "Lato"
GREEN = "#138142"
SIG_BLUE = "#3a54a4"
W, H = 3189, 1665


def S(domain, rng):
    return alt.Scale(domain=domain, range=rng, nice=False, zero=False)


def LX():
    return S([0, 30.4], [192, 1500])


def LF():
    return S([0, 50], [1494, 483])


def ROW():
    return S([1, 36], [1487, 501])


def SY():
    return S([-1, 1], [198, 18])


def RX():
    return S([0, 30], [1750, 3042])


def RFR():
    return S([-0.6, 20.5], [1490, 482])


def RF():
    return S([0, 50], [1490, 482])


COL = alt.Color("mu:N", scale=alt.Scale(domain=MU_IDS, range=MU_COLORS), legend=None)

AX_BASE = dict(grid=False, domainColor="black", tickColor="black", labelColor="black",
               titleColor="black", labelFont=FONT, titleFont=FONT, labelFlush=False,
               labelOverlap=False, labelBound=False, titleFontWeight="normal", domainCap="square")


def axis_layer(ch, vals, scale, **kw):
    opts = dict(AX_BASE)
    opts.update(kw)
    if "title" not in opts:
        opts["title"] = None
    df = pd.DataFrame({"v": vals})
    if ch == "x":
        enc = {"x": alt.X("v:Q", scale=scale, axis=alt.Axis(**opts))}
    else:
        enc = {"y": alt.Y("v:Q", scale=scale, axis=alt.Axis(**opts))}
    return alt.Chart(df).mark_point(opacity=0).encode(**enc)


def border(ch, lo, hi, orient, offset, width=4):
    return axis_layer(ch, [0, 1], S([0, 1], [lo, hi]), orient=orient, offset=offset,
                      domainWidth=width, ticks=False, labels=False)


layers = []

# ---------------- axes / frames
layers += [
    # left panel frame
    border("y", 1494, 483, "left", -209),
    border("x", 209, 1500, "top", -483),
    border("x", 209, 1500, "bottom", 1494 - H),
    border("y", 1494, 483, "right", 1500 - W, width=3),
    # left panel labelled axes
    axis_layer("y", LEFT_Y_TICKS, LF(), orient="left", offset=-209, values=LEFT_Y_TICKS, domain=False,
               ticks=False, tickSize=0, labelFontSize=50, labelPadding=8,
               labelBaseline={"condition": {"test": "datum.value === 0", "value": "bottom"}, "value": "middle"},
               title="Force (% MVC)", titleFontSize=62, titleX=-118, titleY=1081, titleAngle=270,
               titleAlign="center", titleBaseline="middle"),
    axis_layer("y", [10, 20, 30, 40], LF(), orient="right", offset=209 - W, values=[10, 20, 30, 40],
               domain=False, labels=False, tickSize=15, tickWidth=4),
    axis_layer("x", TIME_TICKS, LX(), orient="bottom", offset=1494 - H, values=TIME_TICKS, domain=False,
               ticks=False, tickSize=0, labelFontSize=50, labelPadding=36,
               title="Time (s)", titleFontSize=60, titleX=889, titleY=158, titleAlign="center",
               titleBaseline="alphabetic"),
    # right panel frame
    border("y", 1490, 483, "left", -1750),
    border("x", 1750, 3042, "top", -483),
    border("x", 1750, 3042, "bottom", 1490 - H),
    border("y", 1490, 483, "right", 3042 - W),
    axis_layer("x", TIME_TICKS, RX(), orient="bottom", offset=1490 - H, values=TIME_TICKS, domain=False,
               ticks=False, tickSize=0, labelFontSize=50, labelPadding=31,
               title="Time (s)", titleFontSize=60, titleX=2398, titleY=162, titleAlign="center",
               titleBaseline="alphabetic"),
    axis_layer("x", [10, 20], RX(), orient="top", offset=-1490, values=[10, 20], domain=False,
               labels=False, tickSize=14, tickWidth=4),
    axis_layer("y", RIGHT_Y_TICKS, RFR(), orient="right", offset=3042 - W, values=RIGHT_Y_TICKS,
               domain=False, ticks=False, tickSize=0, labelFontSize=50, labelPadding=21,
               title="Mean firing rate (pps)", titleFontSize=57, titleX=112, titleY=982, titleAngle=270,
               titleAlign="center", titleBaseline="middle"),
    axis_layer("y", [5, 10, 15], RFR(), orient="left", offset=-3042, values=[5, 10, 15], domain=False,
               labels=False, tickSize=14, tickWidth=4),
]

# ---------------- sEMG trace
layers += [
    alt.Chart(core_df).mark_area(color=SIG_BLUE, opacity=1).encode(
        x=alt.X("t:Q", scale=LX(), axis=None), y=alt.Y("u:Q", scale=SY(), axis=None), y2="l:Q"),
    alt.Chart(spk_mid_df).mark_rule(color=SIG_BLUE, strokeWidth=2.5).encode(
        x=alt.X("t:Q", scale=LX(), axis=None), y=alt.Y("a:Q", scale=SY(), axis=None), y2=alt.datum(0)),
    alt.Chart(spk_df).mark_rule(color=SIG_BLUE, strokeWidth=3).encode(
        x=alt.X("t:Q", scale=LX(), axis=None), y=alt.Y("a:Q", scale=SY(), axis=None), y2=alt.datum(0)),
    alt.Chart(one).mark_text(text=["sEMG", "Signal"], lineHeight=62, font="Open Sans", fontWeight="bold",
                             fontSize=53, align="left", baseline="alphabetic").encode(
        x=alt.value(58), y=alt.value(95)),
]

# ---------------- decomposition box and arrows
ARROW = "M0,1L-0.9,-1L0,-0.3L0.9,-1Z"
layers += [
    alt.Chart(one).mark_rule(color=GREEN, strokeWidth=5).encode(
        x=alt.value(828), y=alt.value(205), y2=alt.value(266)),
    alt.Chart(one).mark_point(shape=ARROW, size=1024, filled=True, color=GREEN, opacity=1).encode(
        x=alt.value(828), y=alt.value(263)),
    alt.Chart(one).mark_rect(fill="white", stroke=GREEN, strokeWidth=6).encode(
        x=alt.value(533), x2=alt.value(1123), y=alt.value(279), y2=alt.value(404)),
    alt.Chart(one).mark_text(text="Decomposition", font="Liberation Sans", fontWeight="bold",
                             fontSize=71, align="center", baseline="alphabetic").encode(
        x=alt.value(825), y=alt.value(368)),
    alt.Chart(one).mark_rule(color=GREEN, strokeWidth=5).encode(
        x=alt.value(828), y=alt.value(407), y2=alt.value(466)),
    alt.Chart(one).mark_point(shape=ARROW, size=1024, filled=True, color=GREEN, opacity=1).encode(
        x=alt.value(828), y=alt.value(463)),
]

# ---------------- spike raster
layers += [
    alt.Chart(segs_df).mark_bar(size=17, orient="horizontal", opacity=1).encode(
        x=alt.X("a:Q", scale=LX(), axis=None), x2="b:Q",
        y=alt.Y("mu:Q", scale=ROW(), axis=None), color=COL),
    alt.Chart(base_df).mark_rule(strokeWidth=3, yOffset=7).encode(
        x=alt.X("a:Q", scale=LX(), axis=None), x2="b:Q",
        y=alt.Y("mu:Q", scale=ROW(), axis=None), color=COL),
    alt.Chart(ticks_df).mark_tick(orient="vertical", size=17, thickness=3, opacity=1).encode(
        x=alt.X("t:Q", scale=LX(), axis=None), y=alt.Y("mu:Q", scale=ROW(), axis=None), color=COL),
    alt.Chart(gaps_df).mark_tick(orient="vertical", size=13, thickness=2.5, opacity=1, color="white",
                                 yOffset=-2).encode(
        x=alt.X("t:Q", scale=LX(), axis=None), y=alt.Y("mu:Q", scale=ROW(), axis=None)),
    alt.Chart(lab_df).mark_text(font=FONT, fontSize=27, align="left", baseline="middle").encode(
        x=alt.value(279), y=alt.Y("mu:Q", scale=ROW(), axis=None), text="label:N", color=COL),
    alt.Chart(one).mark_text(text="MU#", font=FONT, fontSize=47, align="left",
                             baseline="alphabetic").encode(x=alt.value(245), y=alt.value(449)),
    alt.Chart(force_df).mark_line(color="black", strokeWidth=8).encode(
        x=alt.X("t:Q", scale=LX(), axis=None), y=alt.Y("f:Q", scale=LF(), axis=None)),
    alt.Chart(circ_df).mark_point(shape="circle", filled=False, size=600, strokeWidth=4.5, opacity=1).encode(
        x=alt.X("t:Q", scale=LX(), axis=None), y=alt.Y("f:Q", scale=LF(), axis=None), color=COL),
]

# ---------------- filter box
layers += [
    alt.Chart(one).mark_rule(color=GREEN, strokeWidth=5).encode(
        x=alt.value(1501), x2=alt.value(1527), y=alt.value(985)),
    alt.Chart(one).mark_rule(color=GREEN, strokeWidth=5).encode(
        x=alt.value(1728), x2=alt.value(1750), y=alt.value(985)),
    alt.Chart(one).mark_rect(fill="white", stroke=GREEN, strokeWidth=5).encode(
        x=alt.value(1527), x2=alt.value(1728), y=alt.value(936), y2=alt.value(1036)),
    alt.Chart(one).mark_text(text="Filter", font="Liberation Sans", fontWeight="bold", fontSize=52,
                             align="center", baseline="alphabetic").encode(x=alt.value(1627), y=alt.value(1005)),
]

# ---------------- firing rates
layers += [
    alt.Chart(fr_df).mark_line(strokeWidth=3.5, interpolate="monotone").encode(
        x=alt.X("t:Q", scale=RX(), axis=None), y=alt.Y("fr:Q", scale=RFR(), axis=None),
        color=COL, detail="mu:N"),
    alt.Chart(force_df).transform_filter(alt.datum.t <= 30.05).mark_line(color="black", strokeWidth=6).encode(
        x=alt.X("t:Q", scale=RX(), axis=None), y=alt.Y("f:Q", scale=RF(), axis=None)),
]

chart = (
    alt.layer(*layers)
    .resolve_scale(x="independent", y="independent")
    .properties(width=W, height=H, padding=0, autosize=alt.AutoSizeParams(type="none"),
                background="white")
    .configure_view(strokeWidth=0)
)

chart.save("out.html", embed_options={"renderer": "svg", "actions": False})
